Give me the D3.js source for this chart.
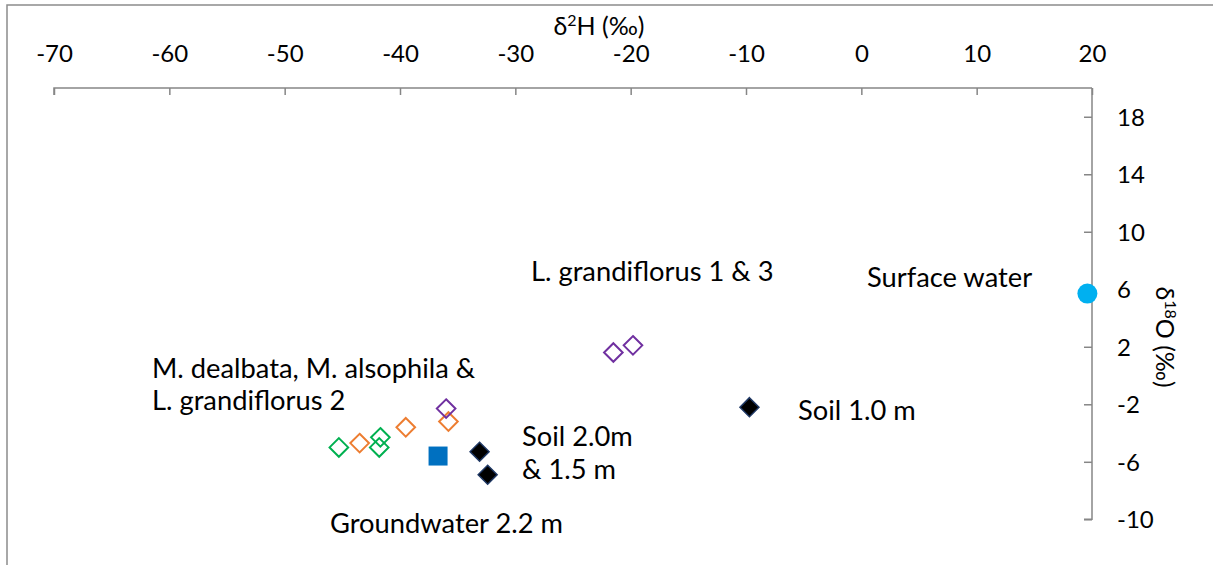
<!DOCTYPE html>
<html><head><meta charset="utf-8">
<script src="https://cdn.jsdelivr.net/npm/d3@7"></script>
<style>
body{margin:0;background:#fff;}
svg text{font-family:Lato,"Open Sans",sans-serif;fill:#000;}
</style></head>
<body><svg id="c" width="1213" height="565"></svg>
<script>
// Data (δ2H, δ18O)
const xTicks = [-70,-60,-50,-40,-30,-20,-10,0,10,20];
const yTicks = [-10,-6,-2,2,6,10,14,18];
const surfaceWater = [[19.6, 5.7]];
const lGrand13 = [[-21.5, 1.6],[-19.8, 2.1]];
const lGrand2 = [[-36.0, -2.3]];
const mDealbata = [[-35.8, -3.2],[-39.5, -3.6],[-43.5, -4.7]];
const mAlsophila = [[-45.3, -5.0],[-41.7, -4.3],[-41.8, -5.0]];
const groundwater = [[-36.7, -5.6]];
const soil10 = [[-9.7, -2.2]];
const soil2015 = [[-33.1, -5.3],[-32.4, -6.9]];

const svg = d3.select("#c");
svg.append("rect").attr("x",7).attr("y",5).attr("width",1230).attr("height",600)
  .attr("fill","none").attr("stroke","#8c8c8c").attr("stroke-width",1.5);

const x = d3.scaleLinear().domain([-70,20]).range([54,1092]);
const y = d3.scaleLinear().domain([-10,20]).range([519.3,88]);
const axisCol = "#868686";
const fmt = d => String(d);

// top x axis
const gx = svg.append("g").attr("transform",`translate(0,${y(20)})`)
  .call(d3.axisBottom(x).tickValues(xTicks).tickSize(7).tickFormat(fmt));
gx.select(".domain").attr("stroke",axisCol).attr("stroke-width",1.5).attr("d",`M${x(-70)},7V0H${x(20)}`);
gx.selectAll(".tick line").attr("stroke",axisCol).attr("stroke-width",1.5);
gx.selectAll(".tick text").attr("y",-26).attr("dy",0).attr("font-size",24);

// right y axis
const gy = svg.append("g").attr("transform",`translate(${x(20)},0)`)
  .call(d3.axisLeft(y).tickValues(yTicks).tickSize(8).tickFormat(fmt));
gy.select(".domain").attr("stroke",axisCol).attr("stroke-width",1.5).attr("d",`M0,${y(20)}V${y(-10)}H-8`);
gy.selectAll(".tick line").attr("stroke",axisCol).attr("stroke-width",1.5);
gy.selectAll(".tick text").attr("x",25).attr("text-anchor","start").attr("dy","0.36em").attr("font-size",24);

// axis titles
const tx = svg.append("text").attr("x",599).attr("y",35).attr("text-anchor","middle").attr("font-size",25);
tx.append("tspan").text("δ");
tx.append("tspan").text("2").attr("font-size",16).attr("dy",-9);
tx.append("tspan").text("H (‰)").attr("dy",9);

const ty = svg.append("text").attr("transform","translate(1156,337) rotate(90)").attr("text-anchor","middle").attr("font-size",25);
ty.append("tspan").text("δ");
ty.append("tspan").text("18").attr("font-size",16).attr("dy",-9);
ty.append("tspan").text("O (‰)").attr("dy",9);

// markers
const diamond = (h) => `M0,${-h}L${h},0L0,${h}L${-h},0Z`;
function diamonds(data, fill, stroke, h, sw){
  svg.append("g").selectAll("path").data(data).join("path")
    .attr("transform",d=>`translate(${x(d[0])},${y(d[1])})`)
    .attr("d",diamond(h)).attr("fill",fill).attr("stroke",stroke).attr("stroke-width",sw);
}
diamonds(mAlsophila,"none","#00B050",9.3,2);
diamonds(mDealbata,"none","#ED7D31",9.3,2);
diamonds(lGrand2,"none","#7030A0",9.3,2);
diamonds(lGrand13,"none","#7030A0",9.3,2);
diamonds(soil10,"#000","#1F3864",9.5,1.5);
diamonds(soil2015,"#000","#1F3864",9.5,1.5);

svg.append("g").selectAll("rect").data(groundwater).join("rect")
  .attr("x",d=>x(d[0])-9.5).attr("y",d=>y(d[1])-9.5).attr("width",19).attr("height",19).attr("fill","#0070C0");
svg.append("g").selectAll("circle").data(surfaceWater).join("circle")
  .attr("cx",d=>x(d[0])).attr("cy",d=>y(d[1])).attr("r",10).attr("fill","#00B0F0");

// annotations
const labels = [
  ["L. grandiflorus 1 & 3",531,281],
  ["Surface water",867,287],
  ["M. dealbata, M. alsophila &",152,378],
  ["L. grandiflorus 2",152,410],
  ["Soil 1.0 m",798,420],
  ["Soil 2.0m",522,446],
  ["& 1.5 m",522,479],
  ["Groundwater 2.2 m",330,533]
];
svg.append("g").selectAll("text").data(labels).join("text")
  .attr("x",d=>d[1]).attr("y",d=>d[2]).attr("font-size",27.3).text(d=>d[0]);
</script></body></html>
